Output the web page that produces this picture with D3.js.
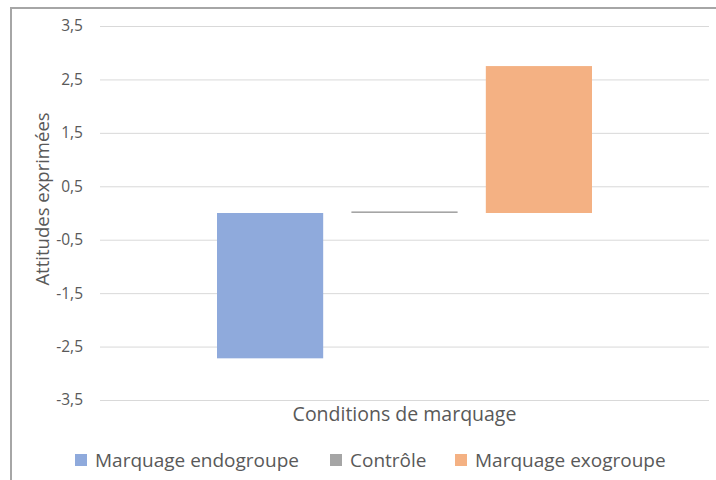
<!DOCTYPE html>
<html>
<head>
<meta charset="utf-8">
<script src="https://cdn.jsdelivr.net/npm/d3@7"></script>
<style>
  body { margin: 0; background: #fff; }
  text { font-family: "Open Sans", sans-serif; fill: #595959; }
</style>
</head>
<body>
<div id="myChart"></div>
<script>

// Data
var series = ["Marquage endogroupe", "Contrôle", "Marquage exogroupe"];
var values = [-2.72, 0.03, 2.75];
var colors = ["#8faadc", "#a5a5a5", "#f4b183"];
var yTicks = [-3.5, -2.5, -1.5, -0.5, 0.5, 1.5, 2.5, 3.5];
var category = ["Conditions de marquage"];

// Main svg window sizes
var width = 716;
var height = 480;

var canvass = d3.select("#myChart")
	.append("svg")
	.attr("width", width)
	.attr("height", height);

// outer frame (cut off on the right and bottom)
canvass.append("rect")
	.attr("x", 11)
	.attr("y", 8)
	.attr("width", 760)
	.attr("height", 520)
	.attr("fill", "none")
	.attr("stroke", "#a6a6a6")
	.attr("stroke-width", 2);

var padding = {top: 26, right: 7, bottom: 80, left: 100};
var charArea = {
	"width": width - padding.left - padding.right,
	"height": height - padding.top - padding.bottom
};

var yScale = d3.scaleLinear()
	.domain([-3.5, 3.5])
	.range([charArea.height, 0]);

var x0 = d3.scaleBand()
	.domain(category)
	.range([0, charArea.width])
	.paddingOuter(0.312)
	.paddingInner(0);

var x1 = d3.scaleBand()
	.domain(series)
	.range([0, x0.bandwidth()])
	.paddingInner(0.21)
	.paddingOuter(0);

var chart = canvass.append("g")
	.attr("transform", "translate(" + padding.left + "," + padding.top + ")");

// gridlines
chart.append("g")
	.attr("class", "grid")
	.call(d3.axisLeft(yScale).tickValues(yTicks).tickSize(-charArea.width).tickFormat(""))
	.call(function(g) { g.select(".domain").remove(); })
	.selectAll("line")
	.attr("stroke", "#d9d9d9")
	.attr("stroke-width", 1);

// y axis labels
chart.append("g")
	.call(d3.axisLeft(yScale).tickValues(yTicks).tickSize(0).tickPadding(17)
		.tickFormat(function(d) { return d3.format(".1f")(d).replace(".", ",").replace("−", "-"); }))
	.call(function(g) { g.select(".domain").remove(); })
	.selectAll("text")
	.style("font-family", "'Open Sans', sans-serif")
	.style("font-size", "15.5px")
	.style("fill", "#595959");

// bars
var grp = chart.append("g")
	.attr("transform", "translate(" + x0(category[0]) + ",0)");

grp.selectAll("rect")
	.data(values)
	.enter()
	.append("rect")
	.attr("x", function(d, i) { return x1(series[i]); })
	.attr("y", function(d) { return yScale(Math.max(0, d)); })
	.attr("width", x1.bandwidth())
	.attr("height", function(d) { return Math.abs(yScale(d) - yScale(0)); })
	.attr("fill", function(d, i) { return colors[i]; });

// axis titles
canvass.append("text")
	.attr("transform", "translate(49,199) rotate(-90)")
	.style("text-anchor", "middle")
	.style("font-size", "18.5px")
	.text("Attitudes exprimées");

canvass.append("text")
	.attr("x", padding.left + x0(category[0]) + x0.bandwidth() / 2)
	.attr("y", 421)
	.style("text-anchor", "middle")
	.style("font-size", "19.5px")
	.text(category[0]);

// legend
var legendX = [75, 330, 455];
var legend = canvass.selectAll(".legend")
	.data(series)
	.enter()
	.append("g")
	.attr("class", "legend")
	.attr("transform", function(d, i) { return "translate(" + legendX[i] + ",454)"; });

legend.append("rect")
	.attr("width", 12)
	.attr("height", 12)
	.attr("fill", function(d, i) { return colors[i]; });

legend.append("text")
	.attr("x", 20)
	.attr("y", 13)
	.style("font-size", "19px")
	.text(function(d) { return d; });

</script>
</body>
</html>
